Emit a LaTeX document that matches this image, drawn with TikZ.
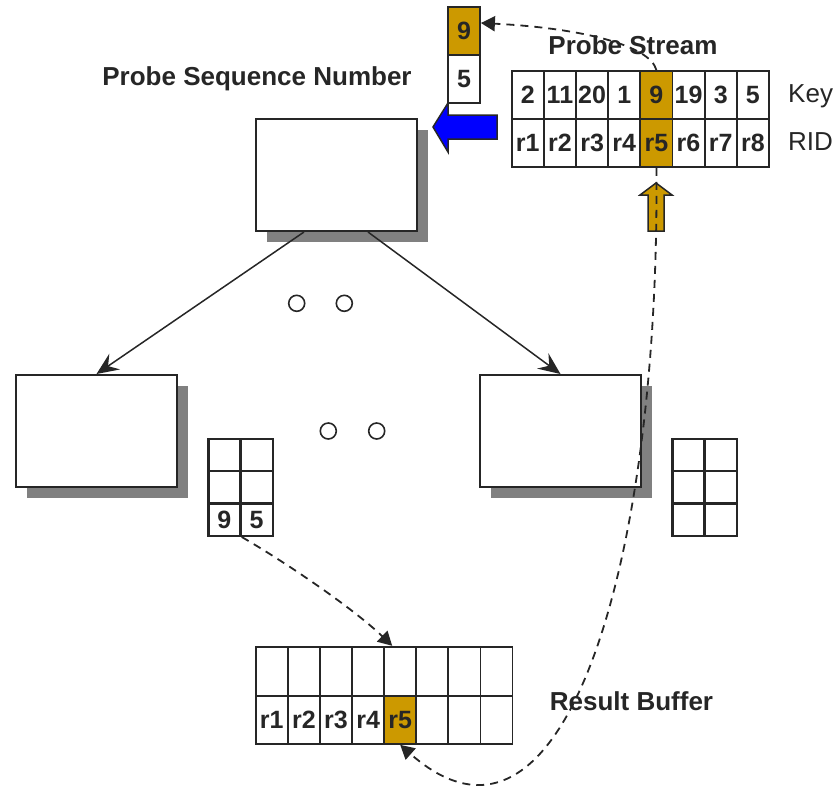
\documentclass[tikz,border=0pt]{standalone}
\usepackage{fontspec}
\setmainfont{Liberation Sans}
\usetikzlibrary{arrows.meta,shadows}

\definecolor{gold}{RGB}{204,153,0}
\definecolor{ink}{RGB}{38,38,38}

\begin{document}
\begin{tikzpicture}[x=1pt, y=-1pt,
  tnode/.style  = {draw=ink, line width=2pt, fill=white, inner sep=0pt,
                   minimum width=161pt, minimum height=112pt,
                   drop shadow={fill=gray, opacity=1, shadow xshift=11pt, shadow yshift=-11pt}},
  cell/.style   = {draw=ink, line width=1.8pt, fill=white, inner sep=0pt,
                   minimum width=32.15pt, minimum height=48pt, text=ink,
                   font=\bfseries\fontsize{25}{25}\selectfont},
  hot/.style    = {cell, fill=gold},
  slot/.style   = {cell, line width=2.4pt, minimum width=32.2pt, minimum height=32.3pt},
  dot/.style    = {circle, draw=ink, line width=1.6pt, minimum size=16pt, inner sep=0pt},
  arrow/.style  = {ink, line width=1.5pt, -{Stealth[length=22pt,width=19pt,inset=8pt]}},
  link/.style   = {ink, line width=1.8pt, dash pattern=on 8pt off 6pt,
                   -{Triangle[length=14pt,width=15pt]}},
  block/.style  = {draw=ink, line width=1.5pt},
  title/.style  = {anchor=base, inner sep=0pt, text=ink,
                   font=\bfseries\fontsize{26}{26}\selectfont},
  lbl/.style    = {anchor=base west, inner sep=0pt, text=ink,
                   font=\fontsize{26}{26}\selectfont},
]
  \useasboundingbox (0,0) rectangle (835,793);

  % index tree
  \node[tnode] (root) at (336.5,175) {};
  \node[tnode] (left) at (96.5,431) {};
  \node[tnode] (right) at (560.5,431) {};

  \draw[arrow] ([xshift=-32.5pt]root.south) -- (left.north);
  \draw[arrow] ([xshift=31.5pt]root.south) -- (right.north);

  \node[dot] (d1) at (296.7,303.3) {};
  \node[dot] (d2) at (344.3,303.3) {};
  \node[dot] (d3) at (328.3,431) {};
  \node[dot] (d4) at (376.7,431) {};

  % leaf entries
  \foreach \row/\a/\b in {0/{}/{}, 1/{}/{}, 2/9/5} {
    \node[slot] (la\row0) at (224.4,{455+32.3*\row}) {\a};
    \node[slot] (la\row1) at (256.6,{455+32.3*\row}) {\b};
    \node[slot] (ra\row0) at (688.4,{455+32.3*\row}) {};
    \node[slot] (ra\row1) at (720.6,{455+32.3*\row}) {};
  }

  % probe stream
  \node[title] (stream) at (633,54) {Probe Stream};
  \foreach \k/\s [count=\i] in {2/cell,11/cell,20/cell,1/cell,9/hot,19/cell,3/cell,5/cell}
    \node[\s] (key\i) at ({527.8+32.15*(\i-1)},95) {\k};
  \foreach \s [count=\i] in {cell,cell,cell,cell,hot,cell,cell,cell}
    \node[\s] (rid\i) at ({527.8+32.15*(\i-1)},143) {r\i};
  \node[lbl] (keylbl) at (788,102) {Key};
  \node[lbl] (ridlbl) at (788,150) {RID};

  \node[title] (seqlbl) at (257,85) {Probe Sequence Number};
  \node[hot, minimum width=32pt] (seq9) at (464,31) {9};
  \node[cell, minimum width=32pt] (seq5) at (464,79) {5};

  \fill[blue, block] (433,127) -- (448,103) -- (448,115) -- (497,115)
    -- (497,139) -- (448,139) -- (448,152) -- cycle;
  \fill[gold, block] (656,183) -- (672,195) -- (664,195) -- (664,231)
    -- (648,231) -- (648,195) -- (640,195) -- cycle;

  % result buffer
  \node[title] (buflbl) at (631.5,710) {Result Buffer};
  \foreach \i in {1,...,8}
    \node[cell, minimum width=32.1pt, minimum height=49pt] (bufk\i) at ({271.8+32.1*(\i-1)},671.2) {};
  \foreach \t/\s [count=\i] in {r1/cell,r2/cell,r3/cell,r4/cell,r5/hot,{}/cell,{}/cell,{}/cell}
    \node[\s, minimum width=32.1pt, minimum height=48.3pt] (bufr\i) at ({271.8+32.1*(\i-1)},719.8) {\t};

  \draw[link] (key5.north) .. controls (650,45) and (580,28) .. ([yshift=8pt]seq9.east);
  \draw[link] (rid5.south) .. controls (660,560) and (565,890) .. (bufr5.south);
  \draw[link] (la20.south east) .. controls (290,565) and (355,610) .. ([xshift=-8pt]bufk5.north);
\end{tikzpicture}
\end{document}
